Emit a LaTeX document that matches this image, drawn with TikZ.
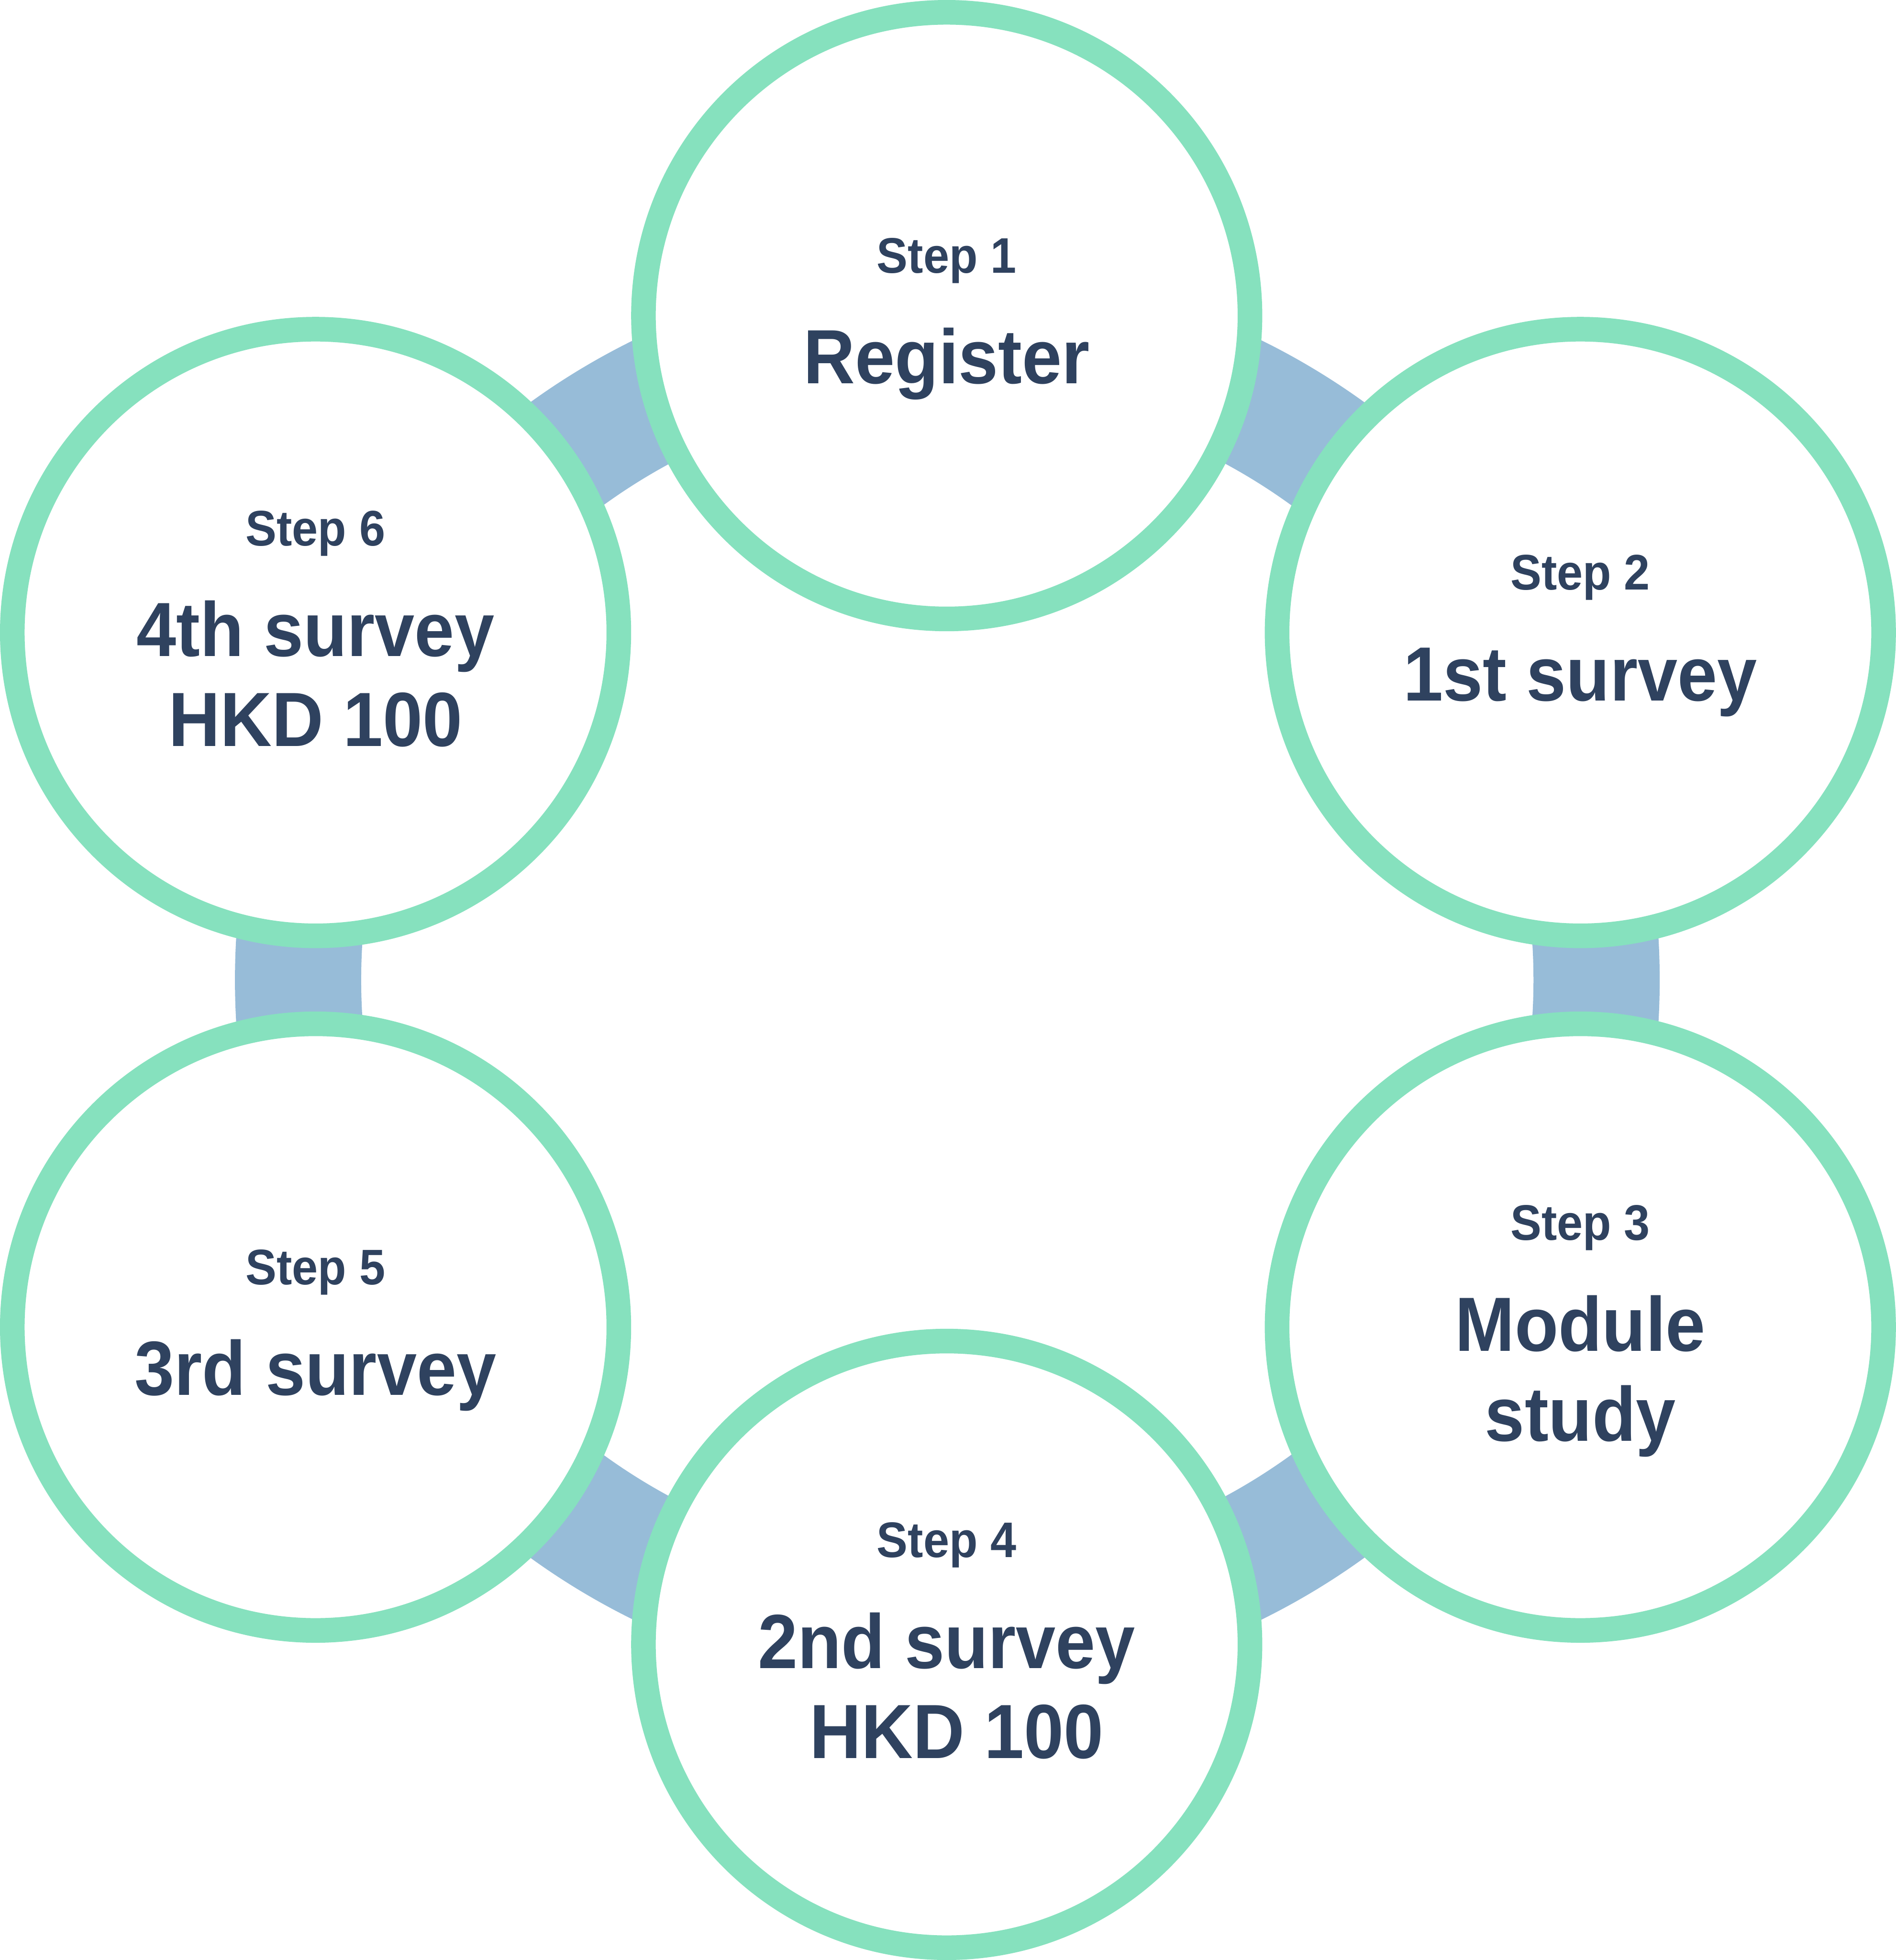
\documentclass[tikz,border=0pt]{standalone}
\usepackage{fontspec}
\setmainfont{Liberation Sans}[FakeStretch=0.93]
\usetikzlibrary{positioning}

\definecolor{ringgreen}{HTML}{86E1BE}
\definecolor{bandblue}{HTML}{97BCD8}
\definecolor{inkblue}{HTML}{2F425F}

\tikzset{
    stepring/.style={circle, draw=ringgreen, fill=white, line width=19.7pt,
        minimum size=485.3pt, inner sep=0pt},
    steptag/.style={anchor=base, text=inkblue,
        font=\bfseries\fontsize{40}{48}\selectfont},
    stepname/.style={anchor=base, text=inkblue, align=center,
        font=\bfseries\fontsize{61.5}{72}\selectfont},
    band/.style={draw=bandblue, line width=101pt},
}

\begin{document}
\begin{tikzpicture}[x=1pt, y=-1pt]
    \useasboundingbox (0,0) rectangle (1517,1568);

    % ring behind the steps
    \coordinate (hub) at (758,784);
    \draw[band] (hub) circle[radius=519.5pt];

    % steps, clockwise from the top
    \node[stepring] (s1) at (757.5,252.5) {};
    \node[stepring, on grid, below right=253.5pt and 507pt of s1] (s2) {};
    \node[stepring, on grid, below=555.7pt of s2] (s3) {};
    \node[stepring, on grid, below left=253.8pt and 507pt of s3] (s4) {};
    \node[stepring, on grid, above left=253.8pt and 505pt of s4] (s5) {};
    \node[stepring, on grid, above=555.7pt of s5] (s6) {};

    % one-line steps
    \node[steptag] (t1) at ([yshift=34pt]s1.center) {Step 1};
    \node[stepname] (n1) at ([yshift=-54.5pt]s1.center) {Register};
    \node[steptag] (t2) at ([yshift=34pt]s2.center) {Step 2};
    \node[stepname] (n2) at ([yshift=-54.5pt]s2.center) {1st survey};
    \node[steptag] (t5) at ([yshift=34pt]s5.center) {Step 5};
    \node[stepname] (n5) at ([yshift=-54.5pt]s5.center) {3rd survey};

    % two-line steps (base is the last line)
    \node[steptag] (t3) at ([yshift=69.5pt]s3.center) {Step 3};
    \node[stepname] (n3) at ([yshift=-91pt]s3.center) {Module\\study};
    \node[steptag] (t4) at ([yshift=69.5pt]s4.center) {Step 4};
    \node[stepname] (n4) at ([yshift=-91pt]s4.center) {2nd survey\\\ HKD 100};
    \node[steptag] (t6) at ([yshift=69.5pt]s6.center) {Step 6};
    \node[stepname] (n6) at ([yshift=-91pt]s6.center) {4th survey\\HKD 100};
\end{tikzpicture}
\end{document}
